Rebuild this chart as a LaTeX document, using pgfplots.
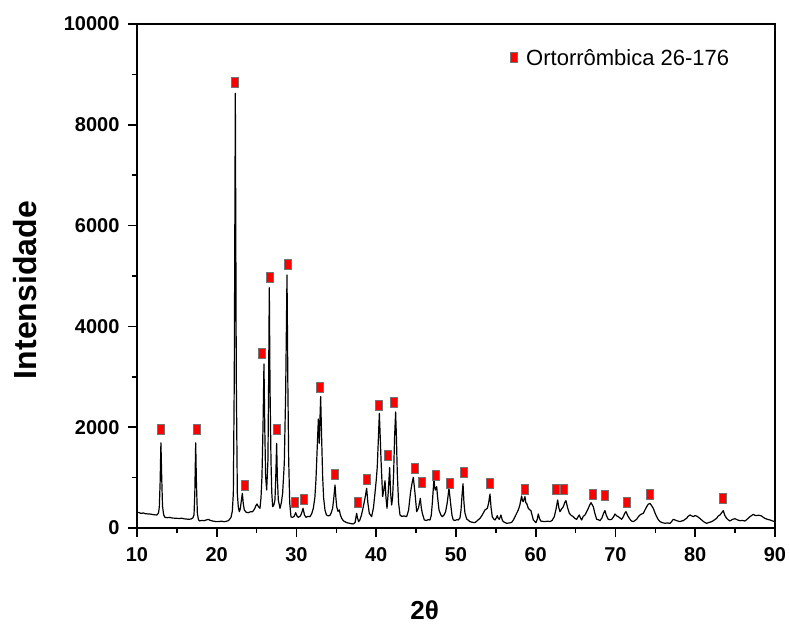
\documentclass[border=0pt]{standalone}
\usepackage{fontspec}
\setmainfont{Liberation Sans}
\usepackage{pgfplots}
\pgfplotsset{compat=1.18}
\begin{document}
\begin{tikzpicture}
\path[use as bounding box] (-137pt,-98pt) rectangle (653pt,528pt);
\begin{axis}[
  at={(0pt,0pt)}, anchor=south west,
  width=638pt, height=504pt, scale only axis,
  xmin=10, xmax=90, ymin=0, ymax=10000,
  xtick={10,20,...,90}, ytick={0,2000,...,10000},
  minor x tick num=1, minor y tick num=1,
  tick align=outside, xtick pos=bottom, ytick pos=left,
  major tick length=9pt, minor tick length=5pt,
  axis line style={line width=1.6pt},
  every tick/.style={black, line width=1.6pt},
  /pgf/number format/assume math mode=true,
  /pgf/number format/1000 sep={},
  scaled y ticks=false,
  tick label style={font=\fontsize{20}{20}\selectfont\bfseries},
  xticklabel style={yshift=-7pt},
  yticklabel style={xshift=-5pt},
  xlabel={2θ}, ylabel={Intensidade},
  xlabel style={at={(axis description cs:0.451,-0.163)}, anchor=center, font=\fontsize{26}{26}\selectfont\bfseries},
  ylabel style={at={(axis description cs:-0.1755,0.472)}, anchor=center, font=\fontsize{32}{32}\selectfont\bfseries},
  legend style={draw=none, fill=none, at={(axis description cs:0.58,0.933)}, anchor=west, font=\fontsize{22}{22}\selectfont, column sep=7pt},
  legend image code/.code={\draw[mark repeat=2,mark phase=2,#1] plot coordinates {(-5pt,0pt) (0pt,0pt) (5pt,0pt)};},
]
\addplot[black, line width=1.2pt, line join=round, forget plot] table {
10.0 300
10.2 310
10.4 295
10.6 290
10.8 300
11.0 285
11.3 280
11.6 278
11.9 270
12.2 262
12.5 258
12.7 300
12.8 420
12.9 900
13.0 1690
13.1 1000
13.2 430
13.35 260
13.5 212
13.8 205
14.1 210
14.4 198
14.7 195
15.0 192
15.3 188
15.6 195
15.9 182
16.2 178
16.5 172
16.8 180
17.0 200
17.15 260
17.25 700
17.36 1690
17.45 900
17.57 290
17.7 170
17.82 140
18.1 150
18.4 145
18.7 160
18.95 172
19.2 150
19.5 138
19.8 130
20.0 126
20.3 128
20.6 135
20.9 125
21.2 132
21.5 150
21.79 212
21.95 330
22.08 688
22.2 3000
22.33 8624
22.45 3000
22.58 688
22.7 420
22.83 324
22.95 380
23.1 560
23.21 688
23.33 480
23.46 357
23.7 310
23.96 304
24.2 320
24.5 324
24.75 380
24.9 440
25.05 476
25.2 430
25.42 390
25.55 600
25.67 1019
25.8 2000
25.92 3254
26.02 2000
26.13 1019
26.26 754
26.42 1349
26.5 2800
26.59 4768
26.68 2800
26.8 1349
26.9 700
27.01 423
27.15 450
27.3 556
27.4 1000
27.51 1680
27.6 1000
27.72 556
27.93 390
28.1 500
28.26 688
28.47 1283
28.64 2672
28.81 5020
28.92 2800
29.02 1349
29.15 500
29.31 220
29.5 210
29.7 230
29.9 304
30.05 240
30.23 212
30.5 240
30.65 300
30.82 390
31.0 260
31.19 212
31.45 230
31.69 225
31.9 280
32.11 390
32.3 600
32.44 952
32.6 1600
32.74 2163
32.86 1680
32.95 2200
33.03 2606
33.15 1800
33.28 1019
33.4 600
33.57 357
33.75 260
33.99 240
34.2 250
34.35 300
34.53 390
34.68 600
34.83 853
34.94 600
35.04 423
35.2 330
35.37 357
35.5 260
35.66 192
35.9 140
36.29 106
36.6 95
36.9 85
37.13 80
37.35 110
37.54 291
37.65 200
37.79 126
37.95 160
38.15 260
38.38 423
38.6 600
38.8 787
38.95 500
39.13 291
39.42 225
39.65 400
39.84 688
40.0 950
40.13 1217
40.25 1700
40.39 2275
40.5 1800
40.6 1349
40.8 622
40.95 760
41.1 939
41.22 600
41.35 390
41.5 700
41.68 1197
41.8 700
41.93 456
42.05 600
42.18 1085
42.3 1800
42.43 2302
42.53 1800
42.64 1085
42.8 500
42.98 258
43.2 230
43.5 240
43.81 225
44.05 350
44.31 721
44.5 900
44.65 1005
44.86 688
45.07 324
45.3 400
45.53 589
45.65 400
45.78 291
46.03 159
46.3 150
46.5 165
46.74 159
46.9 250
47.03 489
47.14 750
47.24 985
47.33 800
47.41 754
47.5 800
47.58 820
47.7 600
47.87 357
48.1 260
48.29 225
48.5 260
48.7 324
48.9 500
49.12 787
49.25 600
49.37 423
49.5 250
49.66 159
49.9 150
50.1 165
50.29 159
50.5 200
50.63 357
50.76 650
50.88 880
51.0 500
51.12 300
51.34 180
51.75 126
52.0 115
52.38 106
52.7 150
53.01 192
53.3 260
53.63 357
53.93 390
54.1 500
54.26 675
54.4 400
54.55 225
54.72 180
54.89 159
55.05 200
55.18 245
55.3 190
55.43 172
55.55 220
55.64 258
55.8 160
55.93 126
56.35 93
56.7 100
56.98 112
57.2 160
57.40 225
57.81 357
58.0 450
58.23 635
58.34 540
58.44 522
58.55 580
58.65 622
58.76 500
58.86 489
59.07 390
59.25 360
59.40 344
59.55 250
59.70 159
60.03 106
60.2 180
60.32 278
60.45 200
60.62 139
60.9 130
61.16 126
61.5 135
61.79 126
62.05 150
62.33 225
62.55 380
62.75 556
62.9 400
63.04 324
63.25 380
63.46 423
63.62 500
63.79 542
64.0 400
64.21 291
64.45 250
64.71 225
64.9 190
65.13 172
65.3 220
65.46 258
65.6 200
65.76 159
65.95 230
66.17 258
66.4 330
66.59 390
66.75 450
66.93 503
67.05 470
67.22 423
67.4 300
67.64 172
67.85 165
68.06 145
68.3 200
68.5 290
68.68 344
68.85 250
69.10 172
69.30 165
69.52 172
69.75 220
69.94 278
70.15 240
70.35 225
70.55 200
70.77 172
71.0 230
71.15 290
71.32 324
71.55 240
71.82 172
72.0 140
72.23 126
72.45 150
72.65 172
72.85 220
73.07 258
73.3 280
73.49 291
73.7 360
73.91 423
74.1 470
74.32 489
74.5 450
74.74 390
74.95 300
75.16 225
75.35 170
75.58 126
75.9 105
76.21 93
76.5 100
76.83 93
77.05 130
77.25 172
77.45 160
77.67 145
77.9 135
78.09 126
78.3 140
78.50 145
78.7 170
78.92 192
79.1 230
79.34 258
79.55 240
79.76 225
79.95 245
80.18 238
80.5 200
80.80 159
81.1 120
81.43 93
81.75 110
82.06 126
82.4 160
82.68 192
82.9 240
83.10 258
83.3 300
83.52 344
83.7 250
83.94 192
84.15 160
84.36 139
84.65 170
84.98 185
85.3 160
85.61 145
85.9 150
86.24 139
86.55 180
86.86 225
87.1 250
87.28 271
87.5 250
87.70 245
87.95 255
88.33 238
88.55 210
88.74 192
89.0 175
89.37 159
89.7 140
90.0 126
};
\addplot[only marks, mark=square*, mark size=5pt, mark options={fill=red, draw=black!55, line width=0.7pt, xscale=0.7}] table {
13.0 1964
17.56 1964
22.29 8849
23.54 853
25.6 3466
26.68 4974
27.55 1964
28.93 5225
29.85 509
30.94 575
32.99 2784
34.83 1065
37.75 503
38.85 966
40.3 2440
41.4 1435
42.15 2493
44.78 1190
45.7 913
47.5 1045
49.2 893
50.95 1095
54.26 886
58.65 767
62.5 767
63.58 767
67.22 668
68.72 648
71.4 509
74.37 668
83.52 582
};
\addlegendentry{Ortorrômbica 26-176}
\end{axis}
\end{tikzpicture}
\end{document}
